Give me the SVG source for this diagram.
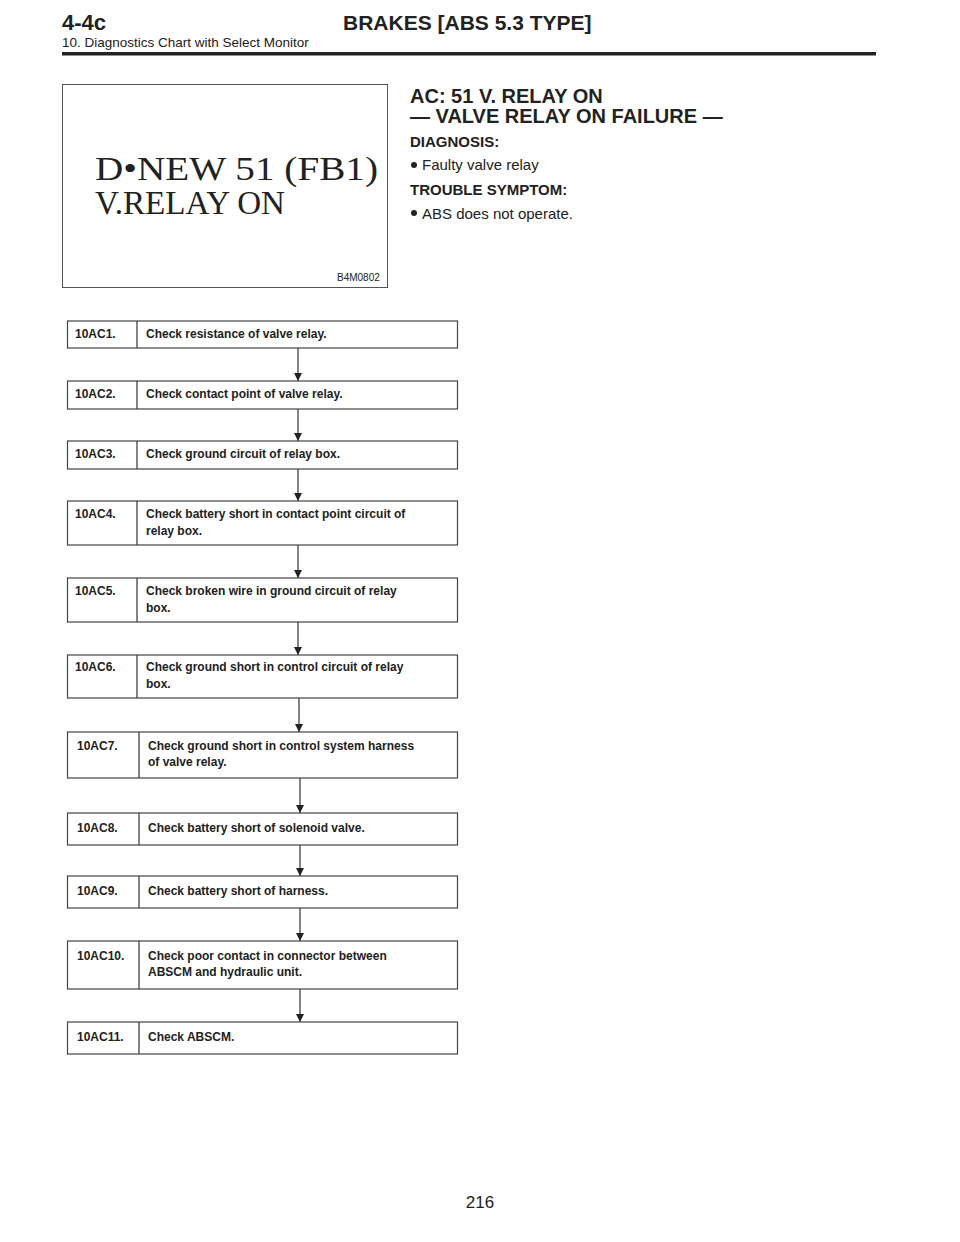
<svg xmlns="http://www.w3.org/2000/svg" width="960" height="1242" viewBox="0 0 960 1242">
<style>
text{font-family:"Liberation Sans",Arial,sans-serif;fill:#222}
.b{font-weight:bold}
.n{font-weight:bold;font-size:12px}
.s{font-family:"Liberation Serif","Times New Roman",serif}
.box{fill:#fff;stroke:#444;stroke-width:1.2}
.c{stroke:#333;stroke-width:1.2;fill:none}
</style>
<defs><marker id="a" viewBox="0 0 10 10" refX="10" refY="5" markerWidth="9" markerHeight="8" orient="auto" markerUnits="userSpaceOnUse"><path d="M0,0L10,5L0,10Z" fill="#222"/></marker></defs>
<rect width="960" height="1242" fill="#fff"/>
<text x="62" y="30" class="b" font-size="22">4-4c</text>
<text x="343" y="30" class="b" font-size="21">BRAKES [ABS 5.3 TYPE]</text>
<text x="62" y="47" font-size="13.5">10. Diagnostics Chart with Select Monitor</text>
<rect x="62" y="52" width="814" height="3.5" fill="#222"/>
<g id="monitor">
<rect x="62.5" y="84.5" width="325" height="203" fill="#fff" stroke="#555"/>
<text class="s" x="95" y="180" font-size="34" textLength="283" lengthAdjust="spacingAndGlyphs">D•NEW 51  (FB1)</text>
<text class="s" x="95" y="214" font-size="34" textLength="190" lengthAdjust="spacingAndGlyphs">V.RELAY  ON</text>
<text x="337" y="281" font-size="10">B4M0802</text>
</g>
<text x="410" y="103" class="b" font-size="20">AC: 51 V. RELAY ON</text>
<text x="410" y="123" class="b" font-size="20">— VALVE RELAY ON FAILURE —</text>
<text x="410" y="147" class="b" font-size="15">DIAGNOSIS:</text>
<circle cx="414" cy="165" r="3" fill="#222"/>
<text x="422" y="170" font-size="15">Faulty valve relay</text>
<text x="410" y="195" class="b" font-size="15">TROUBLE SYMPTOM:</text>
<circle cx="414" cy="213" r="3" fill="#222"/>
<text x="422" y="219" font-size="15">ABS does not operate.</text>
<g id="connectors">
<line class="c" x1="298" y1="348" x2="298" y2="381" marker-end="url(#a)"/>
<line class="c" x1="298" y1="409" x2="298" y2="441" marker-end="url(#a)"/>
<line class="c" x1="298" y1="469" x2="298" y2="501" marker-end="url(#a)"/>
<line class="c" x1="298" y1="545" x2="298" y2="578" marker-end="url(#a)"/>
<line class="c" x1="298" y1="622" x2="298" y2="655" marker-end="url(#a)"/>
<line class="c" x1="299" y1="698" x2="299" y2="732" marker-end="url(#a)"/>
<line class="c" x1="300" y1="778" x2="300" y2="813" marker-end="url(#a)"/>
<line class="c" x1="300" y1="845" x2="300" y2="876" marker-end="url(#a)"/>
<line class="c" x1="300" y1="908" x2="300" y2="941" marker-end="url(#a)"/>
<line class="c" x1="300" y1="989" x2="300" y2="1022" marker-end="url(#a)"/>
</g>
<g id="n1"><rect class="box" x="67.5" y="321" width="390" height="27"/><line class="c" x1="137" y1="321" x2="137" y2="348"/><text class="n" x="75" y="338">10AC1.</text><text class="n" x="146" y="338">Check resistance of valve relay.</text></g>
<g id="n2"><rect class="box" x="67.5" y="381" width="390" height="28"/><line class="c" x1="137" y1="381" x2="137" y2="409"/><text class="n" x="75" y="398">10AC2.</text><text class="n" x="146" y="398">Check contact point of valve relay.</text></g>
<g id="n3"><rect class="box" x="67.5" y="441" width="390" height="28"/><line class="c" x1="137" y1="441" x2="137" y2="469"/><text class="n" x="75" y="458">10AC3.</text><text class="n" x="146" y="458">Check ground circuit of relay box.</text></g>
<g id="n4"><rect class="box" x="67.5" y="501" width="390" height="44"/><line class="c" x1="137" y1="501" x2="137" y2="545"/><text class="n" x="75" y="518">10AC4.</text><text class="n" x="146" y="518">Check battery short in contact point circuit of</text><text class="n" x="146" y="535">relay box.</text></g>
<g id="n5"><rect class="box" x="67.5" y="578" width="390" height="44"/><line class="c" x1="137" y1="578" x2="137" y2="622"/><text class="n" x="75" y="595">10AC5.</text><text class="n" x="146" y="595">Check broken wire in ground circuit of relay</text><text class="n" x="146" y="612">box.</text></g>
<g id="n6"><rect class="box" x="67.5" y="655" width="390" height="43"/><line class="c" x1="137" y1="655" x2="137" y2="698"/><text class="n" x="75" y="671">10AC6.</text><text class="n" x="146" y="671">Check ground short in control circuit of relay</text><text class="n" x="146" y="688">box.</text></g>
<g id="n7"><rect class="box" x="67.5" y="732" width="390" height="46"/><line class="c" x1="139" y1="732" x2="139" y2="778"/><text class="n" x="77" y="750">10AC7.</text><text class="n" x="148" y="750">Check ground short in control system harness</text><text class="n" x="148" y="766">of valve relay.</text></g>
<g id="n8"><rect class="box" x="67.5" y="813" width="390" height="32"/><line class="c" x1="139" y1="813" x2="139" y2="845"/><text class="n" x="77" y="832">10AC8.</text><text class="n" x="148" y="832">Check battery short of solenoid valve.</text></g>
<g id="n9"><rect class="box" x="67.5" y="876" width="390" height="32"/><line class="c" x1="139" y1="876" x2="139" y2="908"/><text class="n" x="77" y="895">10AC9.</text><text class="n" x="148" y="895">Check battery short of harness.</text></g>
<g id="n10"><rect class="box" x="67.5" y="941" width="390" height="48"/><line class="c" x1="139" y1="941" x2="139" y2="989"/><text class="n" x="77" y="960">10AC10.</text><text class="n" x="148" y="960">Check poor contact in connector between</text><text class="n" x="148" y="976">ABSCM and hydraulic unit.</text></g>
<g id="n11"><rect class="box" x="67.5" y="1022" width="390" height="32"/><line class="c" x1="139" y1="1022" x2="139" y2="1054"/><text class="n" x="77" y="1041">10AC11.</text><text class="n" x="148" y="1041">Check ABSCM.</text></g>
<text x="480" y="1208" font-size="17" text-anchor="middle">216</text>
</svg>
